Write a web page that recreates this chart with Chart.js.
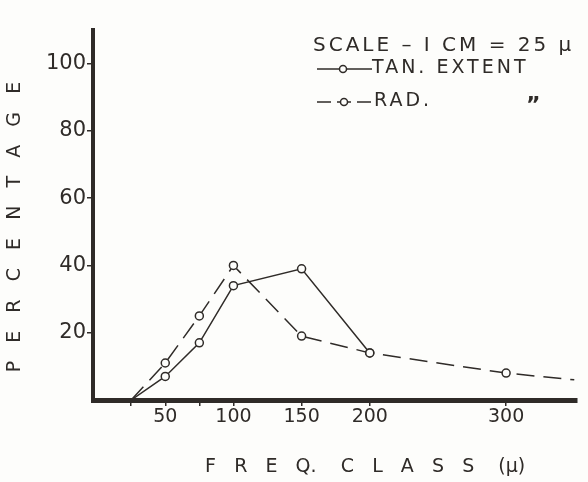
<!DOCTYPE html>
<html>
<head>
<meta charset="utf-8">
<script src="https://cdn.jsdelivr.net/npm/chart.js@4/dist/chart.umd.min.js"></script>
<style>
  html, body { margin: 0; padding: 0; background: #fdfdfb; }
  #wrap { width: 588px; height: 482px; position: relative; }
</style>
</head>
<body>
<div id="wrap"><canvas id="chart"></canvas></div>
<script>
// Data
const tanX = [25, 50, 75, 100, 150, 200];
const tanY = [0, 7, 17, 34, 39, 14];
const radX = [25, 50, 75, 100, 150, 200, 300, 350];
const radY = [0, 11, 25, 40, 19, 14, 8, 6];
const radMarker = [0, 4, 4, 4, 4, 4, 4, 0];
const tanMarker = [0, 4, 4, 4, 4, 4];
const xTicks = [25, 50, 75, 100, 150, 200, 300];
const xLabels = [50, 100, 150, 200, 300];
const yTicks = [20, 40, 60, 80, 100];

const ink = '#2f2b28';
const font = 'DejaVu Sans';

// Legend + scale note drawn in the top right corner
const notePlugin = {
  id: 'note',
  afterDraw(chart) {
    const ctx = chart.ctx;
    ctx.save();
    ctx.fillStyle = ink;
    ctx.strokeStyle = ink;
    ctx.textBaseline = 'middle';
    ctx.font = '20px ' + font;
    ctx.letterSpacing = '3px';
    ctx.fillText('SCALE \u2013 I CM = 25 \u00b5', 313, 46);
    ctx.font = '19px ' + font;
    ctx.letterSpacing = '3px';
    ctx.fillText('TAN. EXTENT', 372, 68);
    ctx.fillText('RAD.', 374, 101);
    ctx.font = 'bold 22px ' + font;
    ctx.fillText('\u201d', 526, 106);

    ctx.lineWidth = 1.5;
    // solid sample
    ctx.beginPath();
    ctx.moveTo(317, 69); ctx.lineTo(372, 69);
    ctx.stroke();
    // dashed sample
    ctx.setLineDash([14, 6]);
    ctx.beginPath();
    ctx.moveTo(317, 102); ctx.lineTo(372, 102);
    ctx.stroke();
    ctx.setLineDash([]);
    [[343, 69], [344, 102]].forEach(([cx, cy]) => {
      ctx.beginPath();
      ctx.arc(cx, cy, 3.5, 0, Math.PI * 2);
      ctx.fillStyle = '#fdfdfb';
      ctx.fill();
      ctx.stroke();
    });
    ctx.restore();
  }
};

new Chart(document.getElementById('chart'), {
  type: 'line',
  data: {
    datasets: [
      {
        label: 'TAN. EXTENT',
        data: tanX.map((x, i) => ({ x: x, y: tanY[i] })),
        borderColor: ink,
        borderWidth: 1.5,
        pointRadius: tanMarker,
        pointBackgroundColor: '#fdfdfb',
        pointBorderColor: ink,
        pointBorderWidth: 1.5,
        tension: 0
      },
      {
        label: 'RAD.',
        data: radX.map((x, i) => ({ x: x, y: radY[i] })),
        borderColor: ink,
        borderWidth: 1.5,
        borderDash: [18, 9],
        pointRadius: radMarker,
        pointBackgroundColor: '#fdfdfb',
        pointBorderColor: ink,
        pointBorderWidth: 1.5,
        tension: 0
      }
    ]
  },
  options: {
    responsive: true,
    maintainAspectRatio: false,
    animation: false,
    layout: { padding: { top: 30, right: 11, left: 0, bottom: 0 } },
    plugins: {
      legend: { display: false },
      tooltip: { enabled: false }
    },
    scales: {
      x: {
        type: 'linear',
        min: -3,
        max: 352,
        afterBuildTicks: scale => {
          scale.ticks = xTicks.map(v => ({ value: v }));
        },
        afterFit: scale => { scale.height = 82; },
        border: { color: ink, width: 5 },
        grid: { drawOnChartArea: false, color: ink, tickLength: 6, lineWidth: 1.5 },
        ticks: {
          color: ink,
          font: { family: font, size: 19 },
          maxRotation: 0,
          autoSkip: false,
          padding: 0,
          callback: v => xLabels.includes(v) ? String(v) : ''
        },
        title: {
          display: true,
          text: '\u00a0\u00a0\u00a0\u00a0\u00a0\u00a0\u00a0\u00a0\u00a0\u00a0F\u00a0\u00a0\u00a0R\u00a0\u00a0\u00a0E\u00a0\u00a0\u00a0Q.\u00a0\u00a0\u00a0\u00a0C\u00a0\u00a0\u00a0L\u00a0\u00a0\u00a0A\u00a0\u00a0\u00a0S\u00a0\u00a0\u00a0S\u00a0\u00a0\u00a0\u00a0(\u00b5)',
          color: ink,
          font: { family: font, size: 19 },
          padding: { top: 10 }
        }
      },
      y: {
        type: 'linear',
        min: 0,
        max: 110,
        afterBuildTicks: scale => {
          scale.ticks = yTicks.map(v => ({ value: v }));
        },
        afterFit: scale => { scale.width = 93; },
        border: { color: ink, width: 4 },
        grid: { drawOnChartArea: false, color: ink, tickLength: 6, lineWidth: 1.5 },
        ticks: {
          color: ink,
          font: { family: font, size: 21 },
          padding: 1
        },
        title: {
          display: true,
          text: 'P\u00a0\u00a0\u00a0E\u00a0\u00a0\u00a0R\u00a0\u00a0\u00a0C\u00a0\u00a0\u00a0E\u00a0\u00a0\u00a0N\u00a0\u00a0\u00a0T\u00a0\u00a0\u00a0A\u00a0\u00a0\u00a0G\u00a0\u00a0\u00a0E\u00a0\u00a0\u00a0\u00a0',
          color: ink,
          font: { family: font, size: 19 },
          padding: { bottom: 2 }
        }
      }
    }
  },
  plugins: [notePlugin]
});
</script>
</body>
</html>
